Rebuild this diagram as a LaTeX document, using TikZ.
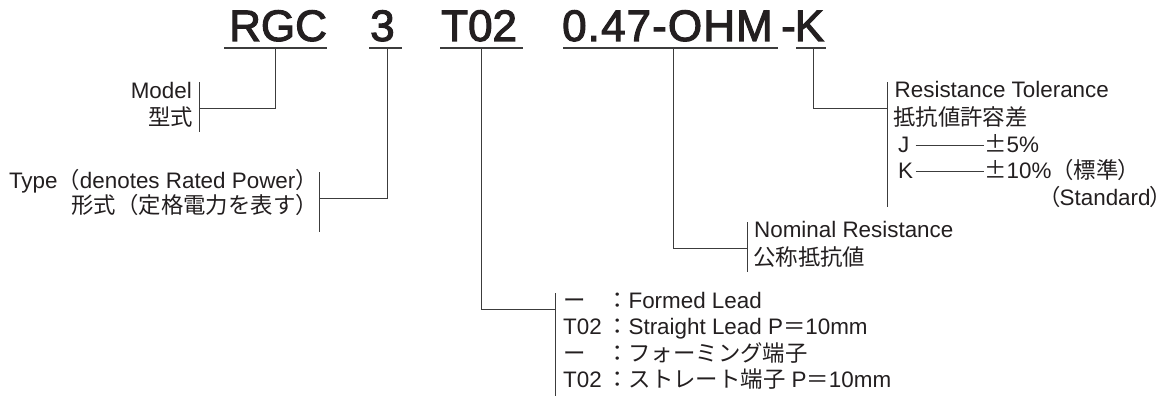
\documentclass[tikz,border=0pt]{standalone}
\usepackage{fontspec}
\setmainfont{Liberation Sans}
\newfontfamily\titlefont[FakeBold=2.5]{Liberation Sans}
\newfontfamily\jp{Noto Sans CJK JP}
\newfontfamily\jpp[RawFeature=+palt]{Noto Sans CJK JP}
\newfontfamily\jpfw[RawFeature=+fwid]{Noto Sans CJK JP}
\definecolor{ink}{HTML}{231F20}
\definecolor{wire}{HTML}{3C3C3C}
\begin{document}
\begin{tikzpicture}[x=1pt,y=-1pt,
  every node/.style={inner sep=0pt,text=ink},
  title/.style={font=\titlefont\fontsize{44}{44}\selectfont,anchor=base west},
  lbl/.style={font=\fontsize{22.4}{27}\selectfont,anchor=base west},
  lblr/.style={font=\fontsize{22.4}{27}\selectfont,anchor=base east},
  mid/.style={lbl,text height=12.6pt,text depth=0pt},
  wireline/.style={draw=wire,line width=1pt},
  uline/.style={draw=wire,line width=1.2pt}]
\useasboundingbox (0,0) rectangle (1172,396);
\fill[white] (0,0) rectangle (1172,396);

% ---- title ----
\node[title] (t1) at (229,41) {RGC};
\node[title] (t2) at (370,41) {3};
\node[title] (t3) at (441,41) {T02};
\node[title] (t4) at (562,41) {\addfontfeatures{LetterSpace=2.5}0.47-OHM};
\node[title] (t4d) at (781,41) {-};
\node[title] (t5) at (794.5,41) {K};

% underlines
\coordinate (u1a) at (224,48); \coordinate (u1b) at (327,48);
\coordinate (u2a) at (369,48); \coordinate (u2b) at (402,48);
\coordinate (u3a) at (440,48); \coordinate (u3b) at (523,48);
\coordinate (u4a) at (563,48); \coordinate (u4b) at (778,48);
\coordinate (u5a) at (796,48); \coordinate (u5b) at (826,48);
\draw[uline] (u1a) -- (u1b);
\draw[uline] (u2a) -- (u2b);
\draw[uline] (u3a) -- (u3b);
\draw[uline] (u4a) -- (u4b);
\draw[uline] (u5a) -- (u5b);
\coordinate (k1) at (275,48);
\coordinate (k2) at (387,48);
\coordinate (k3) at (481,48);
\coordinate (k4) at (673,48);
\coordinate (k5) at (813,48);

% ---- Model ----
\node[lblr] (model) at (192,98) {Model};
\node[lblr] (modeljp) at (193,125) {\jp 型式};
\coordinate (b1a) at (199,82); \coordinate (b1b) at (199,132);
\coordinate (b1m) at (199,108);
\draw[wireline] (b1a) -- (b1b);
\draw[wireline] (k1) |- (b1m);

% ---- Type ----
\node[lblr] (type) at (318,188) {Type{\jp （}denotes Rated Power{\jp ）}};
\node[lblr] (typejp) at (318,213) {\jp 形式（定格電力を表す）};
\coordinate (b2a) at (319,172); \coordinate (b2b) at (319,232);
\coordinate (b2m) at (319,198);
\draw[wireline] (b2a) -- (b2b);
\draw[wireline] (k2) |- (b2m);

% ---- Terminal ----
\node[lbl] (r1) at (563,308) {\makebox[43pt][l]{\jp ー}{\jp ：}Formed Lead};
\node[lbl] (r2) at (563,334.5) {\makebox[43pt][l]{T02}{\jp ：}Straight Lead P{\jp ＝}10mm};
\node[lbl] (r3) at (563,361) {\makebox[43pt][l]{\jp ー}{\jp ：フォーミング端子}};
\node[lbl] (r4) at (563,387.5) {\makebox[43pt][l]{T02}{\jp ：ストレート端子} P{\jp ＝}10mm};
\coordinate (b3a) at (555,293); \coordinate (b3b) at (555,397);
\coordinate (b3m) at (555,309);
\draw[wireline] (b3a) -- (b3b);
\draw[wireline] (k3) |- (b3m);

% ---- Nominal Resistance ----
\node[lbl] (nr) at (754,237) {Nominal Resistance};
\node[lbl] (nrjp) at (753,265) {\jp 公称抵抗値};
\coordinate (b4a) at (747,222); \coordinate (b4b) at (747,272);
\coordinate (b4m) at (747,248);
\draw[wireline] (b4a) -- (b4b);
\draw[wireline] (k4) |- (b4m);

% ---- Resistance Tolerance ----
\node[lbl] (rt) at (894.5,97) {Resistance Tolerance};
\node[lbl] (rtjp) at (893,125) {\jp 抵抗値許容差};
\node[mid] (J) at (898,152) {J};
\node[mid] (pm5) at (984,152) {{\jpfw ±}5\%};
\node[mid] (K) at (898,178) {K};
\node[mid] (pm10) at (984,178) {{\jpfw ±}10\%{\jp （}{\jpp 標準）}};
\node[lblr] (std) at (1162,205) {{\jpp （}Standard{\jpp ）}};
\draw[wireline] ([xshift=6pt]J.east) -- (pm5.west);
\draw[wireline] ([xshift=2.5pt]K.east) -- (pm10.west);
\coordinate (b5a) at (887,82); \coordinate (b5b) at (887,207);
\coordinate (b5m) at (887,108);
\draw[wireline] (b5a) -- (b5b);
\draw[wireline] (k5) |- (b5m);
\end{tikzpicture}
\end{document}
